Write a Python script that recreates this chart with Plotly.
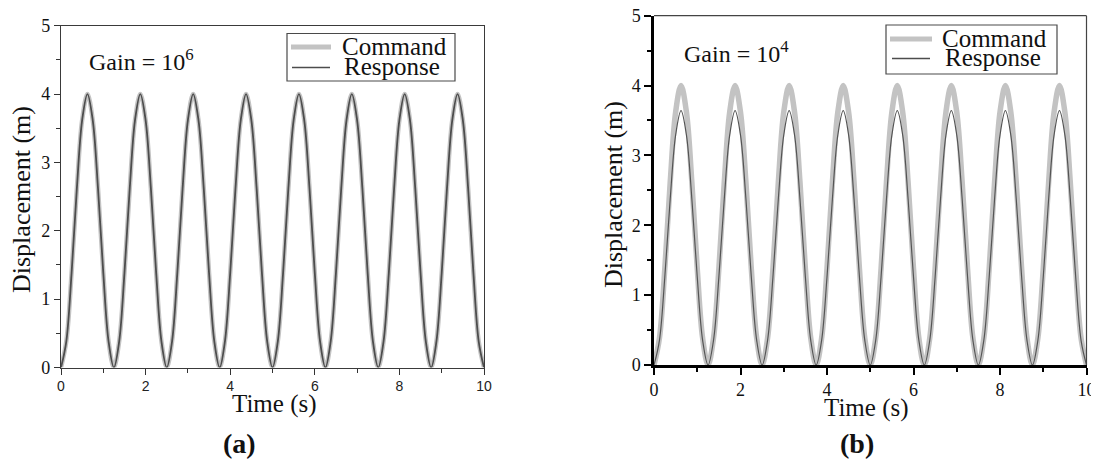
import plotly.graph_objects as go

# ---------------- data ----------------
time_s = [0, 0.125, 0.25, 0.375, 0.5, 0.625, 0.75, 0.875, 1.0, 1.125,
          1.25, 1.375, 1.5, 1.625, 1.75, 1.875, 2.0, 2.125, 2.25, 2.375,
          2.5, 2.625, 2.75, 2.875, 3.0, 3.125, 3.25, 3.375, 3.5, 3.625,
          3.75, 3.875, 4.0, 4.125, 4.25, 4.375, 4.5, 4.625, 4.75, 4.875,
          5.0, 5.125, 5.25, 5.375, 5.5, 5.625, 5.75, 5.875, 6.0, 6.125,
          6.25, 6.375, 6.5, 6.625, 6.75, 6.875, 7.0, 7.125, 7.25, 7.375,
          7.5, 7.625, 7.75, 7.875, 8.0, 8.125, 8.25, 8.375, 8.5, 8.625,
          8.75, 8.875, 9.0, 9.125, 9.25, 9.375, 9.5, 9.625, 9.75, 9.875,
          10.0]

command = [0, 0.38, 1.38, 2.62, 3.62, 4.0, 3.62, 2.62, 1.38, 0.38,
           0, 0.38, 1.38, 2.62, 3.62, 4.0, 3.62, 2.62, 1.38, 0.38,
           0, 0.38, 1.38, 2.62, 3.62, 4.0, 3.62, 2.62, 1.38, 0.38,
           0, 0.38, 1.38, 2.62, 3.62, 4.0, 3.62, 2.62, 1.38, 0.38,
           0, 0.38, 1.38, 2.62, 3.62, 4.0, 3.62, 2.62, 1.38, 0.38,
           0, 0.38, 1.38, 2.62, 3.62, 4.0, 3.62, 2.62, 1.38, 0.38,
           0, 0.38, 1.38, 2.62, 3.62, 4.0, 3.62, 2.62, 1.38, 0.38,
           0, 0.38, 1.38, 2.62, 3.62, 4.0, 3.62, 2.62, 1.38, 0.38,
           0]

response_gain_1e6 = [0, 0.38, 1.38, 2.62, 3.62, 4.0, 3.62, 2.62, 1.38, 0.38,
                     0, 0.38, 1.38, 2.62, 3.62, 4.0, 3.62, 2.62, 1.38, 0.38,
                     0, 0.38, 1.38, 2.62, 3.62, 4.0, 3.62, 2.62, 1.38, 0.38,
                     0, 0.38, 1.38, 2.62, 3.62, 4.0, 3.62, 2.62, 1.38, 0.38,
                     0, 0.38, 1.38, 2.62, 3.62, 4.0, 3.62, 2.62, 1.38, 0.38,
                     0, 0.38, 1.38, 2.62, 3.62, 4.0, 3.62, 2.62, 1.38, 0.38,
                     0, 0.38, 1.38, 2.62, 3.62, 4.0, 3.62, 2.62, 1.38, 0.38,
                     0, 0.38, 1.38, 2.62, 3.62, 4.0, 3.62, 2.62, 1.38, 0.38,
                     0]

response_gain_1e4 = [0, 0.35, 1.26, 2.38, 3.29, 3.64, 3.29, 2.38, 1.26, 0.35,
                     0, 0.35, 1.26, 2.38, 3.29, 3.64, 3.29, 2.38, 1.26, 0.35,
                     0, 0.35, 1.26, 2.38, 3.29, 3.64, 3.29, 2.38, 1.26, 0.35,
                     0, 0.35, 1.26, 2.38, 3.29, 3.64, 3.29, 2.38, 1.26, 0.35,
                     0, 0.35, 1.26, 2.38, 3.29, 3.64, 3.29, 2.38, 1.26, 0.35,
                     0, 0.35, 1.26, 2.38, 3.29, 3.64, 3.29, 2.38, 1.26, 0.35,
                     0, 0.35, 1.26, 2.38, 3.29, 3.64, 3.29, 2.38, 1.26, 0.35,
                     0, 0.35, 1.26, 2.38, 3.29, 3.64, 3.29, 2.38, 1.26, 0.35,
                     0]

x_ticks = [0, 2, 4, 6, 8, 10]
y_ticks = [0, 1, 2, 3, 4, 5]
series_names = ["Command", "Response"]
gain_labels = ["Gain = 10<sup>6</sup>", "Gain = 10<sup>4</sup>"]
panel_labels = ["<b>(a)</b>", "<b>(b)</b>"]
x_title = "Time (s)"
y_title = "Displacement (m)"

# ---------------- layout helpers ----------------
# the page body has an 8 px margin, so the figure is placed 8 px in from the
# top-left corner of the 1099x459 window
OFF = 8
W, H = 1099 - OFF, 459 - OFF
SERIF = "Liberation Serif, Times New Roman, serif"
SANS = "Liberation Sans, Arial, sans-serif"


def px(x):
    return (x - OFF) / W


def py(y):
    return 1 - (y - OFF) / H


CMD_COLOR = "#c3c3c3"
RESP_COLOR = "#4d4d4d"

fig = go.Figure()
fig.add_trace(go.Scatter(x=time_s, y=command, mode="lines", name=series_names[0],
                         line=dict(color=CMD_COLOR, width=4.5, shape="spline"),
                         xaxis="x", yaxis="y", showlegend=False))
fig.add_trace(go.Scatter(x=time_s, y=response_gain_1e6, mode="lines", name=series_names[1],
                         line=dict(color=RESP_COLOR, width=1.8, shape="spline"),
                         xaxis="x", yaxis="y", showlegend=False))
fig.add_trace(go.Scatter(x=time_s, y=command, mode="lines", name=series_names[0],
                         line=dict(color=CMD_COLOR, width=5.5, shape="spline"),
                         xaxis="x2", yaxis="y2", showlegend=False))
fig.add_trace(go.Scatter(x=time_s, y=response_gain_1e4, mode="lines", name=series_names[1],
                         line=dict(color="#555555", width=1.2, shape="spline"),
                         xaxis="x2", yaxis="y2", showlegend=False))

A_X = [px(61), px(484)]
A_Y = [py(367.5), py(25.7)]
B_X = [px(654), px(1086.5)]
B_Y = [py(365), py(15.7)]

axis_a_common = dict(showgrid=False, zeroline=False, showline=True, linecolor="#3a3a3a",
                     linewidth=1.3, mirror=True, ticks="outside", ticklen=6, tickwidth=1.2,
                     tickcolor="#333333", automargin=False, ticklabeloverflow="allow")
axis_b_common = dict(showgrid=False, zeroline=False, showline=True, linecolor="#000000",
                     linewidth=2.5, mirror=False, ticks="outside", ticklen=7, tickwidth=2.2,
                     tickcolor="#000000", automargin=False, ticklabeloverflow="allow")

fig.update_layout(
    width=W, height=H,
    margin=dict(l=0, r=0, t=0, b=0, autoexpand=False),
    paper_bgcolor="white", plot_bgcolor="white",
    showlegend=False,
    xaxis=dict(domain=A_X, range=[0, 10], tickvals=x_ticks, anchor="y",
               tickfont=dict(family=SANS, size=14, color="#222222"),
               minor=dict(ticks="outside", dtick=1, tick0=0, ticklen=4, tickwidth=1.2,
                          tickcolor="#333333"),
               **axis_a_common),
    yaxis=dict(domain=A_Y, range=[0, 5], tickvals=y_ticks, anchor="x",
               tickfont=dict(family=SERIF, size=18, color="#111111"),
               minor=dict(ticks="outside", dtick=0.5, tick0=0, ticklen=4, tickwidth=1.2,
                          tickcolor="#333333"),
               **axis_a_common),
    xaxis2=dict(domain=B_X, range=[0, 10], tickvals=x_ticks, anchor="y2",
                tickfont=dict(family=SERIF, size=18, color="#111111"),
                minor=dict(ticks="outside", dtick=1, tick0=0, ticklen=4, tickwidth=2,
                           tickcolor="#000000"),
                **axis_b_common),
    yaxis2=dict(domain=B_Y, range=[0, 5], tickvals=y_ticks, anchor="x2",
                tickfont=dict(family=SERIF, size=18, color="#111111"),
                minor=dict(ticks="outside", dtick=0.5, tick0=0, ticklen=4, tickwidth=2,
                           tickcolor="#000000"),
                **axis_b_common),
)

shapes = []
# top / right frame of panel (b)
shapes.append(dict(type="line", xref="x2 domain", yref="y2 domain", x0=0, x1=1, y0=1, y1=1,
                   line=dict(color="#444444", width=1.2)))
shapes.append(dict(type="line", xref="x2 domain", yref="y2 domain", x0=1, x1=1, y0=0, y1=1,
                   line=dict(color="#444444", width=1.2)))

# legend boxes and samples (drawn by hand to match the tight original legend)
legend_specs = [
    dict(box=(287, 455, 33.5, 81), cmd=(291, 331, 47), resp=(292, 330, 67.5),
         cmd_t=(340, 46.5), resp_t=(342, 66.5)),
    dict(box=(886, 1057, 25, 74), cmd=(890, 932, 39), resp=(892, 930, 58.5),
         cmd_t=(940, 38), resp_t=(943, 58)),
]
annotations = []
for spec in legend_specs:
    bx0, bx1, by0, by1 = spec["box"]
    shapes.append(dict(type="rect", xref="paper", yref="paper",
                       x0=px(bx0), x1=px(bx1), y0=py(by1), y1=py(by0),
                       line=dict(color="#4a4a4a", width=1.2), fillcolor="rgba(255,255,255,0)"))
    cx0, cx1, cy = spec["cmd"]
    shapes.append(dict(type="line", xref="paper", yref="paper", x0=px(cx0), x1=px(cx1),
                       y0=py(cy), y1=py(cy), line=dict(color=CMD_COLOR, width=5)))
    rx0, rx1, ry = spec["resp"]
    shapes.append(dict(type="line", xref="paper", yref="paper", x0=px(rx0), x1=px(rx1),
                       y0=py(ry), y1=py(ry), line=dict(color=RESP_COLOR, width=1.3)))
    annotations.append(dict(text=series_names[0], xref="paper", yref="paper",
                            x=px(spec["cmd_t"][0]), y=py(spec["cmd_t"][1]),
                            xanchor="left", yanchor="middle", showarrow=False,
                            font=dict(family=SERIF, size=25, color="#111111")))
    annotations.append(dict(text=series_names[1], xref="paper", yref="paper",
                            x=px(spec["resp_t"][0]), y=py(spec["resp_t"][1]),
                            xanchor="left", yanchor="middle", showarrow=False,
                            font=dict(family=SERIF, size=25, color="#111111")))

# gain labels
annotations.append(dict(text=gain_labels[0], xref="paper", yref="paper", x=px(87), y=py(60),
                        xanchor="left", yanchor="middle", showarrow=False,
                        font=dict(family=SERIF, size=24, color="#111111")))
annotations.append(dict(text=gain_labels[1], xref="paper", yref="paper", x=px(682), y=py(52),
                        xanchor="left", yanchor="middle", showarrow=False,
                        font=dict(family=SERIF, size=24, color="#111111")))

# axis titles
for xc, yc in [(274, 404), (866, 408)]:
    annotations.append(dict(text=x_title, xref="paper", yref="paper", x=px(xc), y=py(yc),
                            xanchor="center", yanchor="middle", showarrow=False,
                            font=dict(family=SERIF, size=25, color="#111111")))
for xc, yc in [(21, 200), (614, 195)]:
    annotations.append(dict(text=y_title, xref="paper", yref="paper", x=px(xc), y=py(yc),
                            xanchor="center", yanchor="middle", showarrow=False, textangle=-90,
                            font=dict(family=SERIF, size=26, color="#111111")))

# panel labels
for lbl, (xc, yc) in zip(panel_labels, [(239, 443), (857, 443)]):
    annotations.append(dict(text=lbl, xref="paper", yref="paper", x=px(xc), y=py(yc),
                            xanchor="center", yanchor="middle", showarrow=False,
                            font=dict(family=SERIF, size=28, color="#111111")))

fig.update_layout(shapes=shapes, annotations=annotations)
fig.write_html("out.html")
